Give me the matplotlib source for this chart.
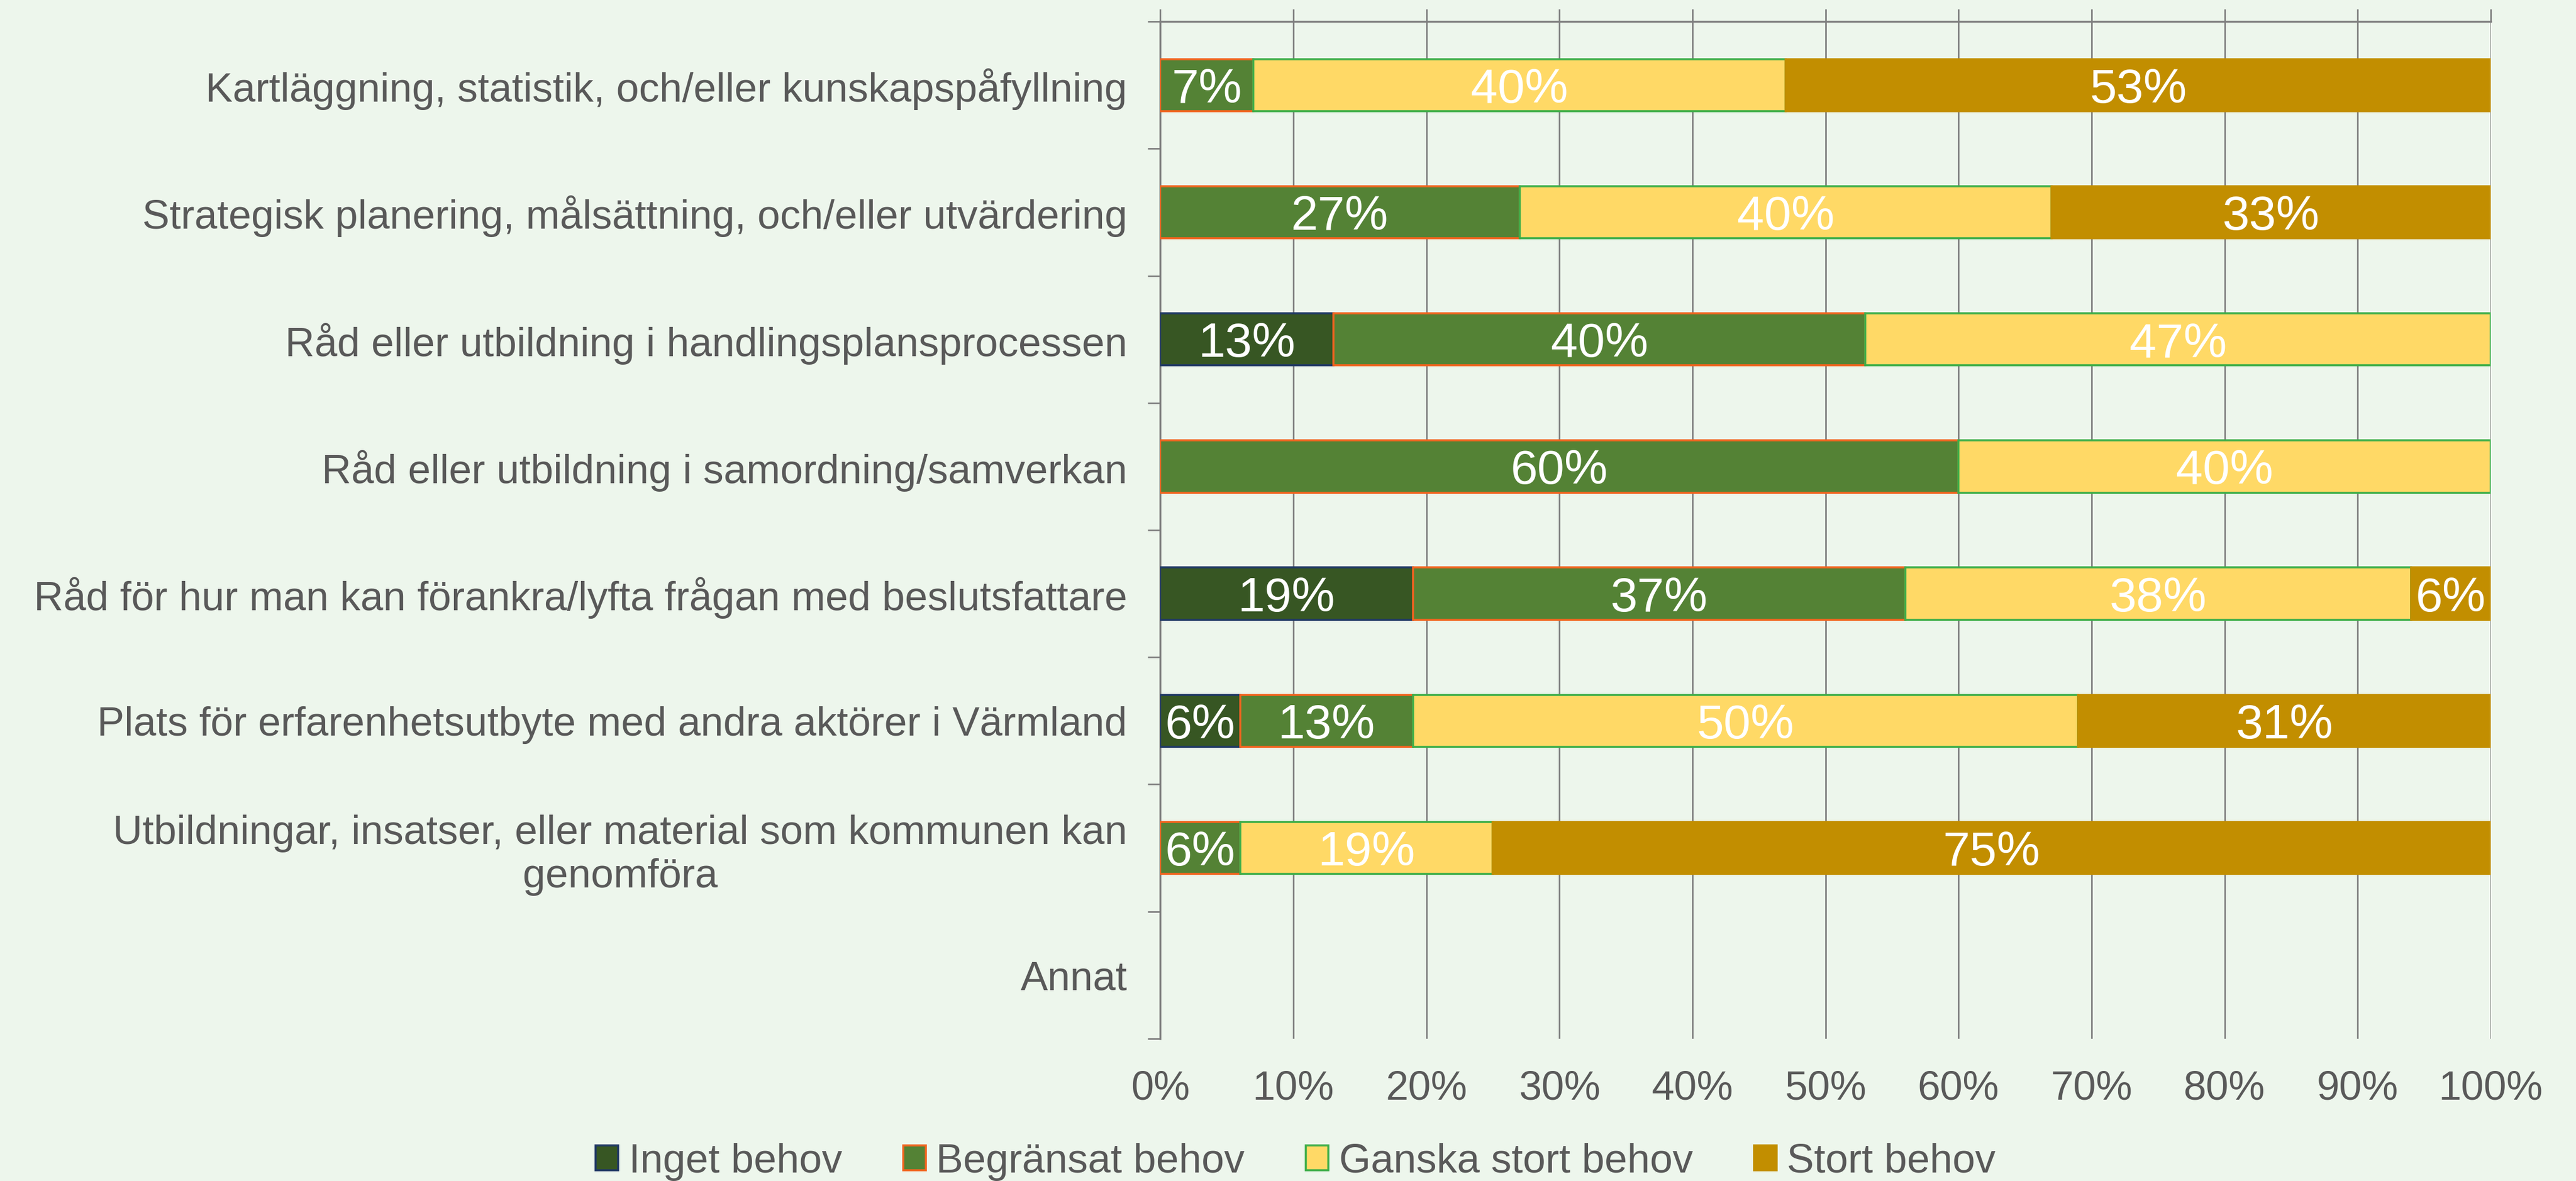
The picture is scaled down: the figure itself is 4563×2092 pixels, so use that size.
import numpy as np
import matplotlib
matplotlib.use('Agg')
import matplotlib.pyplot as plt
from matplotlib.patches import Patch

categories = [
    'Kartläggning, statistik, och/eller kunskapspåfyllning',
    'Strategisk planering, målsättning, och/eller utvärdering',
    'Råd eller utbildning i handlingsplansprocessen',
    'Råd eller utbildning i samordning/samverkan',
    'Råd för hur man kan förankra/lyfta frågan med beslutsfattare',
    'Plats för erfarenhetsutbyte med andra aktörer i Värmland',
    'Utbildningar, insatser, eller material som kommunen kan\ngenomföra',
    'Annat',
]
series_names = ['Inget behov', 'Begränsat behov', 'Ganska stort behov', 'Stort behov']
inget = [0, 0, 13, 0, 19, 6, 0, 0]
begransat = [7, 27, 40, 60, 37, 13, 6, 0]
ganska = [40, 40, 47, 40, 38, 50, 19, 0]
stort = [53, 33, 0, 0, 6, 31, 75, 0]
xticks = [0, 10, 20, 30, 40, 50, 60, 70, 80, 90, 100]

fills = ['#375623', '#548235', '#FFD966', '#C28E00']
edges = ['#1F3864', '#F2641E', '#3DAE49', '#C28E00']
bg = '#EDF6EC'
txt = '#595959'


def main():
    plt.rcParams['font.family'] = ['Liberation Sans', 'DejaVu Sans']
    fig = plt.figure(figsize=(45.63, 20.92), dpi=100, facecolor=bg)
    ax = fig.add_axes([0.4504, 0.1205, 0.5165, 0.8613])
    ax.set_facecolor(bg)

    y = np.arange(len(categories))
    left = np.zeros(len(categories))
    data = [inget, begransat, ganska, stort]
    for vals, name, fc, ec in zip(data, series_names, fills, edges):
        vals = np.array(vals, float)
        keep = vals > 0
        bars = ax.barh(y[keep], vals[keep], left=left[keep], height=0.41, color=fc,
                       edgecolor=ec, linewidth=2.6, label=name, zorder=3)
        for b, v in zip(bars, vals[keep]):
            ax.text(b.get_x() + b.get_width() / 2, b.get_y() + b.get_height() / 2,
                    f'{int(v)}%', ha='center', va='center_baseline', color='white',
                    fontsize=62, zorder=4)
        left += vals

    ax.set_xlim(0, 100)
    ax.set_ylim(len(categories) - 0.5, -0.5)

    # y axis: ticks at boundaries, labels at centres
    ax.set_yticks(np.arange(-0.5, len(categories), 1))
    ax.set_yticklabels([])
    ax.set_yticks(y, minor=True)
    ax.set_yticklabels(categories, minor=True, fontsize=52, color=txt,
                       multialignment='center')
    ax.tick_params(axis='y', which='major', length=16, width=2, color='#7f7f7f',
                   direction='out')
    ax.tick_params(axis='y', which='minor', length=0, pad=42)

    ax.set_xticks(xticks)
    ax.set_xticklabels([f'{t}%' for t in xticks], fontsize=52, color=txt)
    ax.tick_params(axis='x', which='major', bottom=False, top=True, length=16,
                   width=2, color='#7f7f7f', pad=24, labelbottom=True, labeltop=False)
    ax.grid(axis='x', color='#7f7f7f', linewidth=2, zorder=0)

    for s in ['bottom', 'right']:
        ax.spines[s].set_visible(False)
    for s in ['left', 'top']:
        ax.spines[s].set_color('#7f7f7f')
        ax.spines[s].set_linewidth(2.5)

    handles = [Patch(facecolor=fc, edgecolor=ec, linewidth=2.6) for fc, ec in zip(fills, edges)]
    fig.legend(handles, series_names, loc='center', bbox_to_anchor=(0.503, 1 - 2058 / 2092),
               ncol=4, frameon=False, fontsize=52, labelcolor=txt,
               handlelength=0.55, handleheight=0.55, handletextpad=0.26,
               columnspacing=1.5, borderpad=0)

    fig.savefig('out.png', dpi=100, facecolor=bg)


if __name__ == '__main__':
    main()
